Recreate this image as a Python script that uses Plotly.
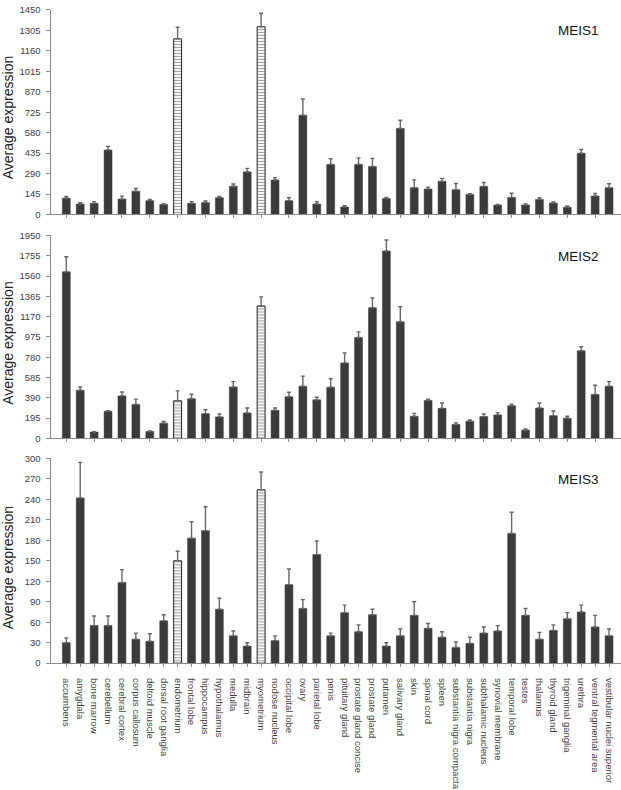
import plotly.graph_objects as go

# ── Data ─────────────────────────────────────────────────────
tissues = [
    "accumbens", "amygdala", "bone marrow", "cerebellum", "cerebral cortex",
    "corpus callosum", "deltoid muscle", "dorsal root ganglia", "endometrium",
    "frontal lobe", "hippocampus", "hypothalamus", "medulla", "midbrain",
    "myometrium", "nodose nucleus", "occipital lobe", "ovary", "parietal lobe",
    "penis", "pituitary gland", "prostate gland concise", "prostate gland",
    "putamen", "salivary gland", "skin", "spinal cord", "spleen",
    "substantia nigra compacta", "substantia nigra", "subthalamic nucleus",
    "synovial membrane", "temporal lobe", "testes", "thalamus", "thyroid gland",
    "trigeminal ganglia", "urethra", "ventral tegmental area",
    "vestibular nuclei superior",
]

meis1 = [115, 74, 79, 457, 109, 165, 98, 70, 1245, 79, 84, 119, 200, 302,
         1331, 244, 98, 703, 74, 355, 53, 355, 340, 113, 610, 190, 180, 235,
         175, 141, 199, 67, 121, 67, 107, 81, 51, 434, 131, 190]
meis1_err = [12, 9, 12, 25, 21, 19, 9, 7, 82, 12, 12, 9, 16, 25,
             96, 17, 21, 116, 16, 40, 9, 46, 58, 7, 58, 55, 14, 21,
             45, 7, 28, 5, 30, 7, 12, 7, 9, 27, 18, 28]

meis2 = [1600, 462, 60, 260, 408, 326, 66, 146, 361, 380, 237, 206, 494, 244,
         1272, 269, 399, 500, 370, 491, 725, 969, 1255, 1800, 1120, 212, 364,
         288, 133, 165, 209, 225, 313, 79, 291, 218, 193, 842, 421, 500]
meis2_err = [145, 32, 4, 6, 38, 51, 6, 16, 95, 44, 38, 28, 51, 47,
             88, 22, 44, 98, 25, 82, 95, 54, 94, 107, 145, 28, 13,
             51, 16, 12, 25, 22, 16, 10, 48, 45, 19, 38, 89, 45]

meis3 = [30, 242, 55, 55, 118, 35, 32, 62, 150, 183, 194, 79, 40, 25,
         254, 33, 115, 80, 159, 40, 74, 46, 71, 25, 40, 70, 51, 38,
         23, 29, 44, 47, 190, 70, 35, 48, 65, 75, 53, 40]
meis3_err = [7, 52, 14, 14, 19, 9, 11, 9, 14, 24, 35, 16, 7, 5,
             26, 7, 23, 13, 20, 4, 11, 10, 8, 5, 10, 20, 7, 8,
             8, 9, 9, 8, 31, 10, 10, 8, 9, 10, 17, 10]

genes = ["MEIS1", "MEIS2", "MEIS3"]
hatched = {"endometrium", "myometrium"}

# ── Style ────────────────────────────────────────────────────
_FONT = "Liberation Sans, Arial, sans-serif"
_BAR = "#3b3b3b"
_AXIS = "#8a8a8a"
_TXT = "#404040"

W, H = 621, 790
y_spans = [(4, 211.7), (233, 439), (459.3, 667.3)]   # px top/bottom of each panel
y_max = [1450, 1950, 300]
y_step = [145, 195, 30]
title_y = [114, 343, 571]
label_y = [25, 254, 481]

series = [(meis1, meis1_err), (meis2, meis2_err), (meis3, meis3_err)]

colors = ["white" if t in hatched else _BAR for t in tissues]
shapes = ["-" if t in hatched else "" for t in tissues]
line_colors = ["#222222" if t in hatched else _BAR for t in tissues]
line_widths = [1 if t in hatched else 0.5 for t in tissues]

fig = go.Figure()
annotations = []

for i, (vals, errs) in enumerate(series):
    k = "" if i == 0 else str(i + 1)
    fig.add_trace(go.Bar(
        x=tissues, y=vals,
        xaxis="x" + k, yaxis="y" + k,
        width=0.57,
        marker=dict(
            color=colors,
            line=dict(color=line_colors, width=line_widths),
            pattern=dict(shape=shapes, fgcolor="#222222", bgcolor="white",
                         size=3, solidity=0.4),
        ),
        error_y=dict(type="data", array=errs, arrayminus=[0] * len(errs),
                     symmetric=False, color="#666666", thickness=1.4, width=2),
        showlegend=False,
        hoverinfo="x+y",
    ))

    top, bot = y_spans[i]
    dom = [1 - bot / H, 1 - top / H]
    fig.layout["xaxis" + k] = dict(
        domain=[50.5 / W, 1], anchor="y" + k,
        range=[-1.135, 39.86], type="category",
        showline=True, linecolor=_AXIS, linewidth=1,
        ticks="outside", ticklen=3, tickcolor=_AXIS, tickwidth=1,
        showgrid=False, zeroline=False,
        showticklabels=(i == 2), tickangle=90,
        tickfont=dict(family=_FONT, size=9.5, color=_TXT),
        ticklabelstandoff=9,
    )
    fig.layout["yaxis" + k] = dict(
        domain=dom, anchor="x" + k,
        range=[0, y_max[i]], dtick=y_step[i], tick0=0,
        showline=True, linecolor=_AXIS, linewidth=1,
        ticks="outside", ticklen=4, tickcolor=_AXIS, tickwidth=1,
        showgrid=False, zeroline=False,
        tickfont=dict(family=_FONT, size=9.5, color=_TXT),
        ticklabelstandoff=3,
    )

    annotations.append(dict(
        text="Average expression", xref="paper", yref="paper",
        x=8 / W, y=1 - title_y[i] / H, xanchor="center", yanchor="middle",
        textangle=-90, showarrow=False,
        font=dict(family=_FONT, size=14, color="#222222"),
    ))
    annotations.append(dict(
        text=genes[i], xref="paper", yref="paper",
        x=578 / W, y=1 - label_y[i] / H, xanchor="center", yanchor="middle",
        showarrow=False,
        font=dict(family=_FONT, size=13.5, color="#111111"),
    ))

fig.update_layout(
    width=W, height=H,
    margin=dict(l=0, r=0, t=0, b=0),
    paper_bgcolor="white", plot_bgcolor="white",
    font=dict(family=_FONT, color=_TXT),
    bargap=0.4,
    annotations=annotations,
)

# page body has a default margin; drop it so the figure fills the window
fig.write_html(
    "out.html",
    config={"displayModeBar": False},
    post_script="document.body.style.margin='0';document.body.style.overflow='hidden';",
)
